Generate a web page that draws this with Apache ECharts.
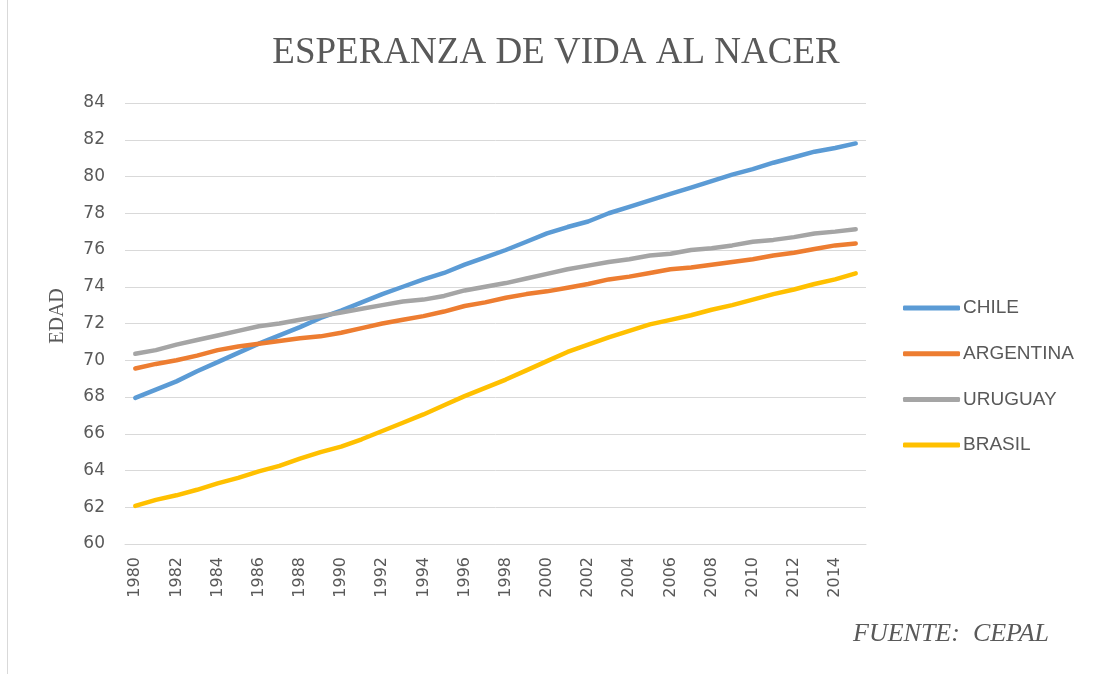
<!DOCTYPE html>
<html>
<head>
<meta charset="utf-8">
<script src="https://cdn.jsdelivr.net/npm/echarts@6/dist/echarts.min.js"></script>
<style>
html,body{margin:0;padding:0;background:#fff;}
#chart{width:1096px;height:674px;}
</style>
</head>
<body>
<div id="chart"></div>
<script>
const years = [];
for (let y = 1980; y <= 2015; y++) years.push(String(y));

const chile = [67.95,68.4,68.85,69.4,69.9,70.4,70.9,71.35,71.8,72.3,72.7,73.15,73.6,74.0,74.4,74.75,75.2,75.6,76.0,76.45,76.9,77.25,77.55,78.0,78.35,78.7,79.05,79.4,79.75,80.1,80.4,80.75,81.05,81.35,81.55,81.8];
const argentina = [69.55,69.8,70.0,70.25,70.55,70.75,70.9,71.05,71.2,71.3,71.5,71.75,72.0,72.2,72.4,72.65,72.95,73.15,73.4,73.6,73.75,73.95,74.15,74.4,74.55,74.75,74.95,75.05,75.2,75.35,75.5,75.7,75.85,76.05,76.25,76.35];
const uruguay = [70.35,70.55,70.85,71.1,71.35,71.6,71.85,72.0,72.2,72.4,72.6,72.8,73.0,73.2,73.3,73.5,73.8,74.0,74.2,74.45,74.7,74.95,75.15,75.35,75.5,75.7,75.8,76.0,76.1,76.25,76.45,76.55,76.7,76.9,77.0,77.13];
const brasil = [62.07,62.4,62.65,62.95,63.3,63.6,63.95,64.25,64.65,65.0,65.3,65.7,66.15,66.6,67.05,67.55,68.05,68.5,68.95,69.45,69.95,70.45,70.85,71.25,71.6,71.95,72.2,72.45,72.75,73.0,73.3,73.6,73.85,74.15,74.4,74.73];

const seriesNames = ['CHILE','ARGENTINA','URUGUAY','BRASIL'];
const seriesData = [chile, argentina, uruguay, brasil];
const colors = ['#5B9BD5','#ED7D31','#A5A5A5','#FFC000'];

const chart = echarts.init(document.getElementById('chart'));
chart.setOption({
  backgroundColor: '#ffffff',
  animation: false,
  title: {
    text: 'ESPERANZA DE VIDA AL NACER',
    left: 551, top: 30, textAlign: 'center',
    textStyle: { fontFamily: 'Liberation Serif', fontSize: 37, fontWeight: 'normal', color: '#595959' }
  },
  legend: {
    orient: 'vertical', left: 903, top: 298, padding: 0,
    itemWidth: 57, itemHeight: 5, itemGap: 25.7,
    icon: 'roundRect',
    textStyle: { fontFamily: 'Liberation Sans', fontSize: 19, lineHeight: 20, color: '#595959', padding: [0,0,0,-2] },
    data: seriesNames
  },
  grid: { left: 125, top: 103, width: 741, height: 441 },
  xAxis: {
    type: 'category', data: years, boundaryGap: true,
    axisLine: { show: true, lineStyle: { color: '#d9d9d9', width: 1 } },
    axisTick: { show: false },
    axisLabel: { interval: 1, rotate: 90, margin: 13, fontFamily: 'DejaVu Sans', fontSize: 16, color: '#595959' }
  },
  yAxis: {
    type: 'value', min: 60, max: 84, interval: 2,
    axisLine: { show: false }, axisTick: { show: false },
    axisLabel: { margin: 20, fontFamily: 'DejaVu Sans', fontSize: 17, color: '#595959' },
    splitLine: { lineStyle: { color: '#d9d9d9', width: 1 } }
  },
  series: seriesNames.map((n, k) => ({
    name: n, type: 'line', data: seriesData[k],
    showSymbol: false, symbol: 'none',
    lineStyle: { color: colors[k], width: 4.5, cap: 'round', join: 'round' },
    itemStyle: { color: colors[k] }
  })),
  graphic: [
    { type: 'line', shape: { x1: 7.5, y1: 0, x2: 7.5, y2: 674 }, style: { stroke: '#d9d9d9', lineWidth: 1 } },
    { type: 'text', x: 58, y: 316, rotation: Math.PI / 2,
      style: { text: 'EDAD', font: '20px "Liberation Serif"', fill: '#595959', align: 'center', verticalAlign: 'middle' } },
    { type: 'text', x: 853, y: 634,
      style: { text: 'FUENTE:  CEPAL', font: 'italic 26px "Liberation Serif"', fill: '#595959', verticalAlign: 'middle' } }
  ]
});
</script>
</body>
</html>
